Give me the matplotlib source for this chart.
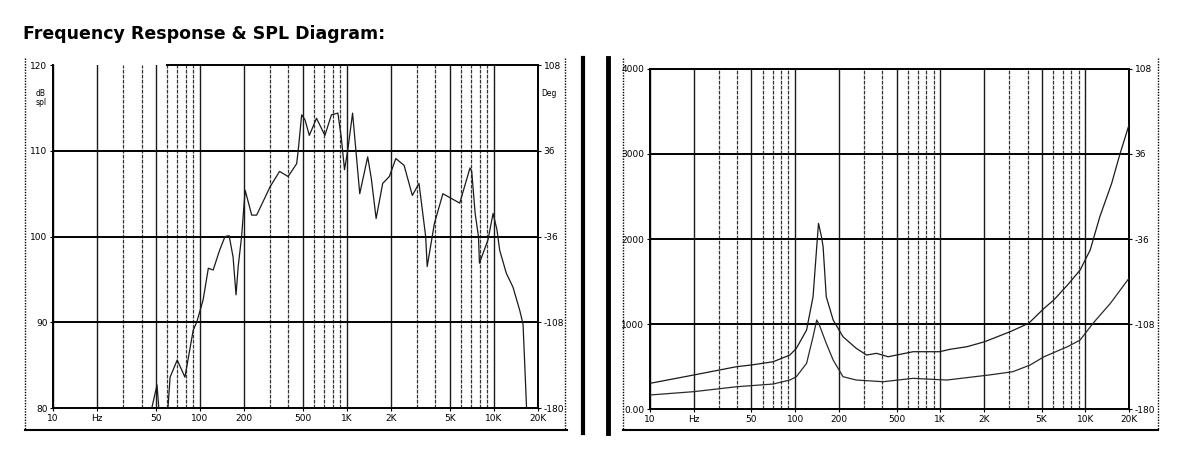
import matplotlib
matplotlib.use("Agg")
import matplotlib.pyplot as plt
from matplotlib.lines import Line2D

# SPL response (left panel)
spl_freq = [47, 51, 53, 60, 62.6, 70, 79, 90, 95, 105, 114, 123, 136, 148, 158, 168, 176,
            182, 192, 203, 225, 243, 300, 348, 398, 455, 466, 492, 519, 555, 621, 708,
            785, 868, 915, 963, 1012, 1093, 1223, 1385, 1465, 1581, 1752, 1944, 2153,
            2451, 2788, 3095, 3436, 3518, 3807, 3937, 4500, 5860, 6880, 7070, 7460,
            7860, 7980, 9120, 9880, 10500, 10960, 12170, 13500, 15000, 15800, 16700]
spl_db = [80, 82.7, 79, 79, 83.6, 85.6, 83.6, 89.1, 90, 92.6, 96.3, 96.1, 98.4, 100, 100.1,
          97.6, 93.2, 96.5, 100, 105.4, 102.5, 102.5, 105.8, 107.6, 107, 108.5, 110, 114.2,
          113.6, 111.8, 113.8, 111.8, 114.2, 114.4, 111.6, 107.8, 110, 114.4, 105, 109.3,
          106.8, 102.1, 106.2, 107, 109.1, 108.3, 104.8, 106.2, 100, 96.5, 100, 101.5, 105,
          103.9, 108, 107.6, 102.7, 100, 96.9, 99.6, 102.7, 100.8, 98.4, 95.7, 94.1, 91.4,
          89.8, 80]

# impedance-type curves (right panel)
upper_freq = [10, 20, 39.5, 50, 70.6, 92, 102, 120, 133, 141, 145, 152, 156, 164, 183, 214,
              264, 311, 364, 438, 650, 991, 1165, 1530, 2020, 3030, 4070, 5200, 6060, 7540,
              9210, 10810, 12600, 15200, 17250, 20000]
upper_val = [302, 400, 498, 518, 556, 635, 713, 929, 1321, 1909, 2184, 2027, 1909, 1321,
             1047, 850, 714, 635, 655, 615, 674, 674, 702, 733, 791, 909, 1008, 1184, 1282,
             1458, 1634, 1870, 2262, 2654, 2987, 3340]
lower_freq = [10, 20, 39.5, 70.6, 92, 102, 120, 133, 141, 147, 164, 183, 214, 264, 405, 650,
              1110, 2170, 3170, 4160, 5200, 7540, 9210, 11300, 14900, 20000]
lower_val = [165, 204, 262, 294, 341, 380, 537, 850, 1047, 988, 772, 576, 380, 341, 321, 361,
             341, 400, 439, 517, 615, 733, 811, 1008, 1243, 1537]

x_ticks = [10, 20, 50, 100, 200, 500, 1000, 2000, 5000, 10000, 20000]
x_labels = ["10", "Hz", "50", "100", "200", "500", "1K", "2K", "5K", "10K", "20K"]
phase_ticks = [-180, -108, -36, 36, 108]

FS = 6.5
grid_freqs = [m * d for d in (10, 100, 1000, 10000) for m in range(1, 10) if m * d <= 20000]


def style_axes(ax, ylim, yticks, ylabels):
    ax.set_xscale("log")
    ax.set_xlim(10, 20000)
    ax.set_ylim(*ylim)
    for f in grid_freqs:
        lead = int(str(int(f))[0])
        if lead in (1, 2, 5):
            ax.axvline(f, color="#1a1a1a", lw=1.0, zorder=1)
        else:
            ax.axvline(f, color="#333333", lw=0.9, ls=(0, (3, 1)), zorder=1)
    for y in yticks[1:-1]:
        ax.axhline(y, color="black", lw=1.4, zorder=1)
    ax.set_xticks(x_ticks)
    ax.set_xticklabels(x_labels, fontsize=FS)
    ax.minorticks_off()
    ax.set_yticks(yticks)
    ax.set_yticklabels(ylabels, fontsize=FS)
    ax.tick_params(length=2, width=0.8, pad=2)
    for s in ax.spines.values():
        s.set_linewidth(1.4)


fig = plt.figure(figsize=(11.92, 4.53), dpi=100)
fig.text(0.0193, 0.925, "Frequency Response & SPL Diagram:", fontsize=12.5,
         fontweight="bold", family="DejaVu Sans", va="center")

# left panel
ax1 = fig.add_axes([0.0445, 0.0993, 0.4069, 0.757])
style_axes(ax1, (80, 120), [80, 90, 100, 110, 120], ["80", "90", "100", "110", "120"])
ax1.spines["top"].set_visible(False)
ax1.plot([60, 20000], [120, 120], color="black", lw=1.4, clip_on=False, zorder=3)
ax1.plot(spl_freq, spl_db, color="#1a1a1a", lw=0.9, zorder=4)
ax1.text(-0.035, 0.93, "dB\nspl", transform=ax1.transAxes, fontsize=5.5, va="top",
         linespacing=1.0)
ax1b = ax1.twinx()
ax1b.set_ylim(-180, 108)
ax1b.set_yticks(phase_ticks)
ax1b.set_yticklabels([str(v) for v in phase_ticks], fontsize=FS)
ax1b.tick_params(length=2, pad=2)
for s in ax1b.spines.values():
    s.set_visible(False)
ax1.text(1.006, 0.93, "Deg", transform=ax1.transAxes, fontsize=5.5, va="top")

# right panel
ax2 = fig.add_axes([0.5453, 0.0971, 0.4018, 0.7506])
style_axes(ax2, (0, 4000), [0, 1000, 2000, 3000, 4000],
           ["0.00", "1000", "2000", "3000", "4000"])
ax2.axhline(4000, color="black", lw=1.4)
ax2.plot(upper_freq, upper_val, color="#1a1a1a", lw=0.9, zorder=4)
ax2.plot(lower_freq, lower_val, color="#2a2a2a", lw=0.9, zorder=4)
ax2b = ax2.twinx()
ax2b.set_ylim(-180, 108)
ax2b.set_yticks(phase_ticks)
ax2b.set_yticklabels([str(v) for v in phase_ticks], fontsize=FS)
ax2b.tick_params(length=2, pad=2)
for s in ax2b.spines.values():
    s.set_visible(False)

# outer frames of the scanned panels
H, W = 453.0, 1192.0
def fx(px):
    return px / W
def fy(py):
    return 1 - py / H

frame = [
    ([fx(25), fx(25)], [fy(58), fy(430)], (0, (1, 1)), 1.0),
    ([fx(25), fx(567)], [fy(430), fy(430)], "-", 1.5),
    ([fx(565), fx(565)], [fy(58), fy(430)], (0, (1, 1)), 1.0),
    ([fx(583), fx(583)], [fy(58), fy(433)], "-", 3.0),
    ([fx(608), fx(608)], [fy(58), fy(433)], "-", 3.5),
    ([fx(623), fx(623)], [fy(58), fy(430)], (0, (1, 1)), 1.0),
    ([fx(623), fx(1158)], [fy(430), fy(430)], "-", 1.5),
    ([fx(1158), fx(1158)], [fy(58), fy(430)], (0, (1, 1)), 1.0),
]
for xs, ys, ls, lw in frame:
    fig.add_artist(Line2D(xs, ys, color="black", ls=ls, lw=lw))

fig.savefig("out.png", dpi=100, facecolor="white")
